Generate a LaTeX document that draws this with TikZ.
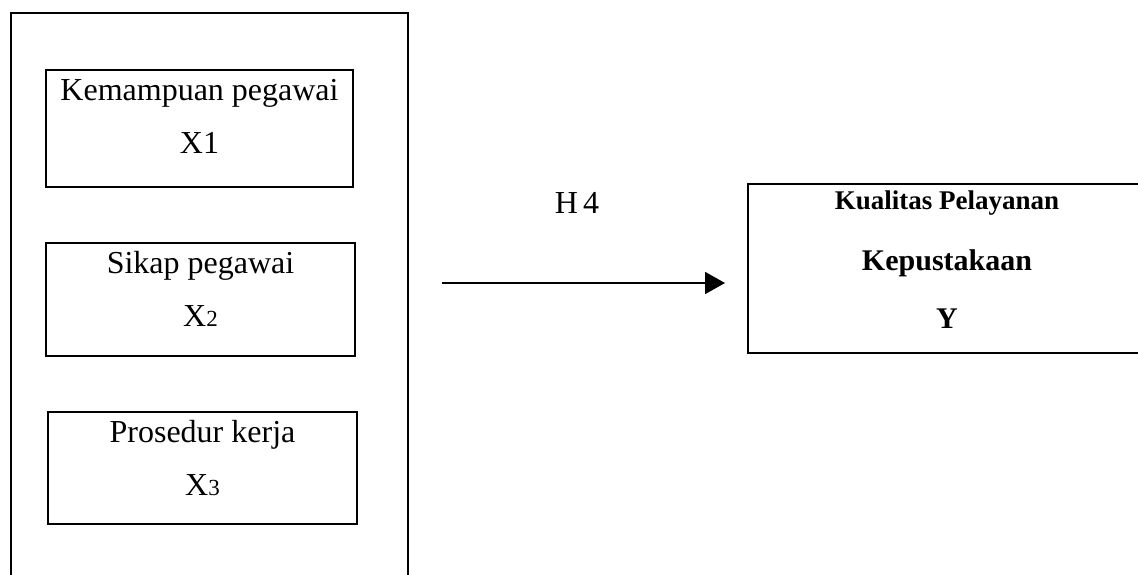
\documentclass[tikz,border=0pt]{standalone}
\usepackage{fontspec}
\setmainfont{Liberation Serif}
\usetikzlibrary{arrows.meta}
\tikzset{
  frame/.style={draw=black, line width=1.6pt},
  varbox/.style={draw=black, line width=1.6pt, rectangle, inner sep=0pt},
  lbl/.style={inner sep=0pt, anchor=base, font=\fontsize{32}{38}\selectfont},
  blbl/.style={inner sep=0pt, anchor=base, font=\fontsize{30}{36}\selectfont\bfseries},
  slbl/.style={inner sep=0pt, anchor=base, font=\fontsize{27}{32}\selectfont\bfseries},
}
\newcommand{\idx}[1]{{\fontsize{23}{27}\selectfont #1}}
\begin{document}
\begin{tikzpicture}[x=1pt,y=-1pt]
\useasboundingbox (0,0) rectangle (1138,574);
\clip (0,0) rectangle (1138,574);
\fill[white] (0,0) rectangle (1138,574);

% surrounding frame of the independent variables (open at the bottom)
\draw[frame] (11,590) -- (11,13) -- (408,13) -- (408,590);

% independent variables
\node[varbox, minimum width=307pt, minimum height=117pt] (x1box) at (199.5,128.5) {};
\node[lbl] (x1name) at (199.5,100) {Kemampuan pegawai};
\node[lbl] (x1code) at (199.5,153) {X1};

\node[varbox, minimum width=309pt, minimum height=113pt] (x2box) at (200.5,299.5) {};
\node[lbl] (x2name) at (200.5,273) {Sikap pegawai};
\node[lbl] (x2code) at (200.5,326) {X\idx{2}};

\node[varbox, minimum width=309pt, minimum height=112pt] (x3box) at (202.5,468) {};
\node[lbl] (x3name) at (202.5,442) {Prosedur kerja};
\node[lbl] (x3code) at (202.5,495) {X\idx{3}};

% dependent variable
\node[varbox, minimum width=420pt, minimum height=169pt] (ybox) at (958,268.5) {};
\node[slbl] (yname) at (947,209) {Kualitas Pelayanan};
\node[blbl] (ysub) at (947,270) {Kepustakaan};
\node[blbl] (ycode) at (947,328) {Y};

% hypothesis arrow
\node[lbl] (hyp) at (577,213) {H\,4};
\coordinate (hstart) at (442,283);
\coordinate (hend) at (725,283);
\draw[line width=1.9pt, -{Triangle[length=20pt,width=22pt]}] (hstart) -- (hend);
\end{tikzpicture}
\end{document}
